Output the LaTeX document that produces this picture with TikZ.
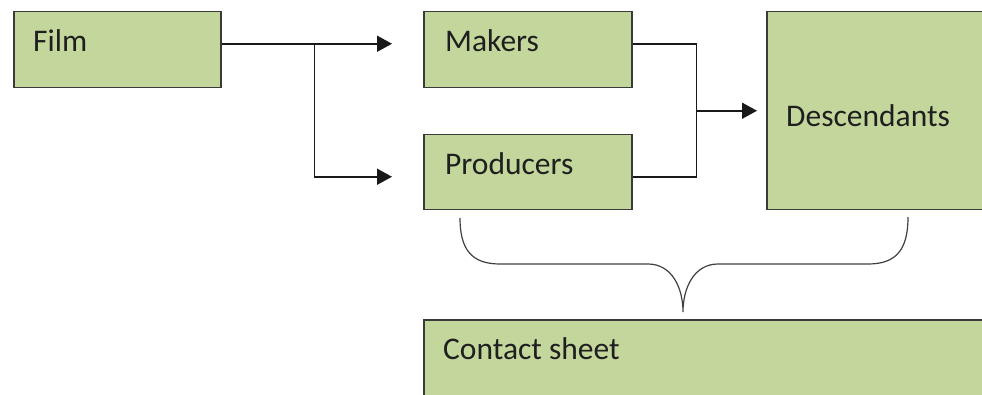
\documentclass[tikz,border=0pt]{standalone}
\usepackage{fontspec}
\setmainfont{Carlito}
\usetikzlibrary{arrows.meta,calc}
\definecolor{boxfill}{HTML}{C3D69B}
\definecolor{boxline}{HTML}{3A3A3A}
\begin{document}
\begin{tikzpicture}[x=1pt,y=-1pt,
  box/.style={draw=boxline, fill=boxfill, line width=1.5pt, anchor=north west, inner sep=0pt},
  lbl/.style={anchor=base west, inner sep=0pt, font=\fontsize{31.5}{38}\selectfont, text=black!88},
  conn/.style={line width=1.6pt, black!90},
  arr/.style={conn, -{Triangle[length=15pt,width=16pt]}},
  bracestyle/.style={line width=1.2pt, black!75}]
\useasboundingbox (0,0) rectangle (982,395);
\begin{scope}
\clip (0,0) rectangle (982,395);
% boxes
\node[box, minimum width=207pt, minimum height=76pt] (film) at (13,11) {};
\node[box, minimum width=208pt, minimum height=76pt] (makers) at (423,11) {};
\node[box, minimum width=208pt, minimum height=75pt] (producers) at (423,134) {};
\node[box, minimum width=400pt, minimum height=198pt] (desc) at (766,11) {};
\node[box, minimum width=800pt, minimum height=200pt] (contact) at (423,319) {};
% labels
\node[lbl] (filmt) at (33,52) {Film};
\node[lbl] (makerst) at (445,52) {Makers};
\node[lbl] (producerst) at (445,175) {Producers};
\node[lbl] (desct) at (786,127) {Descendants};
\node[lbl] (contactt) at (443,359) {Contact sheet};
% connectors left
\coordinate (fo) at ($(film.east)+(0,-6)$);
\coordinate (split) at ($(fo)+(93,0)$);
\coordinate (mkin) at ($(makers.west)+(-31,-6)$);
\coordinate (prin) at ($(producers.west)+(-31,4.5)$);
\draw[arr] (fo) -- (mkin);
\draw[arr] (split) |- (prin);
% connectors right
\coordinate (mko) at ($(makers.east)+(0,-6)$);
\coordinate (pro) at ($(producers.east)+(0,4.5)$);
\coordinate (join) at ($(mko)+(64,0)$);
\draw[conn] (mko) -| (join |- pro) -- (pro);
\coordinate (mid) at (join |- desc.west);
\draw[arr] (mid) -- ($(desc.west)+(-9,0)$);
% brace
\coordinate (bl) at (460,218);
\coordinate (br) at (908,217);
\coordinate (bt) at (683,312);
\draw[bracestyle] (bl) .. controls (460,250) and (472,264) .. (500,264) -- (648,264)
  .. controls (672,264) and (683,288) .. (bt)
  .. controls (683,288) and (694,264) .. (718,264) -- (868,264)
  .. controls (896,264) and (908,250) .. (br);
\end{scope}
\end{tikzpicture}
\end{document}
